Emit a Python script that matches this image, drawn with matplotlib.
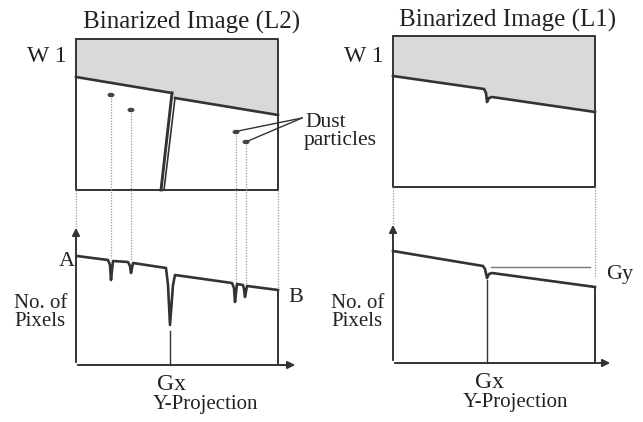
import matplotlib.pyplot as plt
import numpy as np

# diagram coordinates (pixel units, y down)
# --- left panel: binarized image L2 ---
l2_box_x = [76, 278, 278, 76, 76]
l2_box_y = [39, 39, 190, 190, 39]
l2_edge_left_x = [76, 172]
l2_edge_left_y = [77, 93]
l2_edge_right_x = [175, 278]
l2_edge_right_y = [98, 115]
l2_crack_a_x = [172, 161]
l2_crack_a_y = [93, 190]
l2_crack_b_x = [175, 164]
l2_crack_b_y = [98, 190]
dust_x = [111, 131, 236, 246]
dust_y = [95, 110, 132, 142]
dust_hit_y = [258, 261, 282, 284]

# Y-projection of L2
proj_l2_x = [77, 108, 110, 111, 113, 128, 130, 131, 133, 166, 168, 170, 173, 175,
             232, 234, 235, 237, 243, 244, 245, 247, 278]
proj_l2_y = [256, 260, 265, 280, 261, 262, 266, 273, 263, 268, 285, 325, 285, 275,
             283, 288, 302, 284, 285, 289, 297, 286, 290]

# --- right panel: binarized image L1 ---
l1_box_x = [393, 595, 595, 393, 393]
l1_box_y = [36, 36, 187, 187, 36]
l1_edge_x = [393, 484, 486, 487, 489, 492, 595]
l1_edge_y = [76, 89, 93, 102, 98, 97, 112]

proj_l1_x = [393, 483, 485, 487, 489, 492, 595]
proj_l1_y = [251, 266, 269, 278, 274, 273, 287]

ink = '#333333'
dots = '#9a9a9a'
shade = '#d9d9d9'
font = ['Liberation Serif', 'DejaVu Serif']

fig = plt.figure(figsize=(6.43, 4.22), dpi=100)
ax = fig.add_axes([0, 0, 1, 1])
ax.set_xlim(0, 643)
ax.set_ylim(422, 0)
ax.axis('off')

# shaded (dark) part of each image
ax.fill(l2_edge_left_x + l2_edge_right_x + [278, 76],
        l2_edge_left_y + l2_edge_right_y + [39, 39], color=shade, lw=0)
ax.fill(l1_edge_x + [595, 393], l1_edge_y + [36, 36], color=shade, lw=0)

for bx, by in [(l2_box_x, l2_box_y), (l1_box_x, l1_box_y)]:
    ax.plot(bx, by, color=ink, lw=1.4)

ax.plot(l2_edge_left_x, l2_edge_left_y, color=ink, lw=1.9)
ax.plot(l2_edge_right_x, l2_edge_right_y, color=ink, lw=1.9)
ax.plot(l2_crack_a_x, l2_crack_a_y, color=ink, lw=2.1)
ax.plot(l2_crack_b_x, l2_crack_b_y, color=ink, lw=1.2)
ax.plot(l1_edge_x, l1_edge_y, color=ink, lw=1.9)

# dust particles and their dotted drop lines
ax.plot(dust_x, dust_y, ls='none', marker=(4, 0, 0), color=ink, ms=0)
for x, y in zip(dust_x, dust_y):
    ax.add_patch(plt.matplotlib.patches.Ellipse((x, y), 7, 4.5, color='#444444', lw=0))
for x, y0, y1 in zip(dust_x, dust_y, dust_hit_y):
    ax.plot([x, x], [y0 + 3, y1], color=dots, lw=0.9, ls=(0, (1, 1.2)))
for x, y in zip(dust_x[2:], dust_y[2:]):
    ax.plot([x + 2, 302], [y - 1, 118], color=ink, lw=1.0)

# dotted guides between image and projection
ax.plot([76, 76], [190, 228], color=dots, lw=0.9, ls=(0, (1, 1.2)))
ax.plot([278, 278], [190, 289], color=dots, lw=0.9, ls=(0, (1, 1.2)))
ax.plot([393, 393], [187, 225], color=dots, lw=0.9, ls=(0, (1, 1.2)))
ax.plot([595, 595], [187, 278], color=dots, lw=0.9, ls=(0, (1, 1.2)))

# projection axes
for x0, x1, y0, ytop in [(76, 298, 365, 225), (393, 613, 363, 222)]:
    ax.annotate('', xy=(x0, ytop), xytext=(x0, y0),
                arrowprops=dict(arrowstyle='-|>', color=ink, lw=1.4, mutation_scale=11))
    ax.annotate('', xy=(x1, y0), xytext=(x0 - 1, y0),
                arrowprops=dict(arrowstyle='-|>', color=ink, lw=1.4, mutation_scale=11))

ax.plot(proj_l2_x, proj_l2_y, color=ink, lw=1.9)
ax.plot([278, 278], [290, 365], color=ink, lw=1.4)
ax.plot([170, 170], [331, 365], color=ink, lw=1.0)

ax.plot(proj_l1_x, proj_l1_y, color=ink, lw=1.9)
ax.plot([595, 595], [287, 363], color=ink, lw=1.4)
ax.plot([487, 487], [280, 363], color=ink, lw=1.0)
ax.plot([491, 590], [267, 267], color='#777777', lw=1.0)

# text
tk = dict(color='#222222', family=font)
ax.text(192, 22, 'Binarized Image (L2)', ha='center', va='center', fontsize=18, **tk)
ax.text(508, 20, 'Binarized Image (L1)', ha='center', va='center', fontsize=18, **tk)
ax.text(47, 57, 'W 1', ha='center', va='center', fontsize=17, **tk)
ax.text(364, 57, 'W 1', ha='center', va='center', fontsize=17, **tk)
ax.text(305, 127, 'Dust', ha='left', va='baseline', fontsize=15.5, **tk)
ax.text(304, 145, 'particles', ha='left', va='baseline', fontsize=15.5, **tk)
ax.text(67, 262, 'A', ha='center', va='center', fontsize=16, **tk)
ax.text(296, 298, 'B', ha='center', va='center', fontsize=16, **tk)
ax.text(620, 274, 'Gy', ha='center', va='center', fontsize=16, **tk)
for cx in [41, 358]:
    ax.text(cx, 303, 'No. of', ha='center', va='center', fontsize=15, **tk)
    ax.text(cx - 1, 322, 'Pixels', ha='center', va='center', fontsize=15, **tk)
ax.text(172, 385, 'Gx', ha='center', va='center', fontsize=17, **tk)
ax.text(490, 383, 'Gx', ha='center', va='center', fontsize=17, **tk)
ax.text(205, 405, 'Y-Projection', ha='center', va='center', fontsize=15, **tk)
ax.text(515, 402, 'Y-Projection', ha='center', va='center', fontsize=15, **tk)

fig.savefig('out.png', dpi=100, facecolor='white')
